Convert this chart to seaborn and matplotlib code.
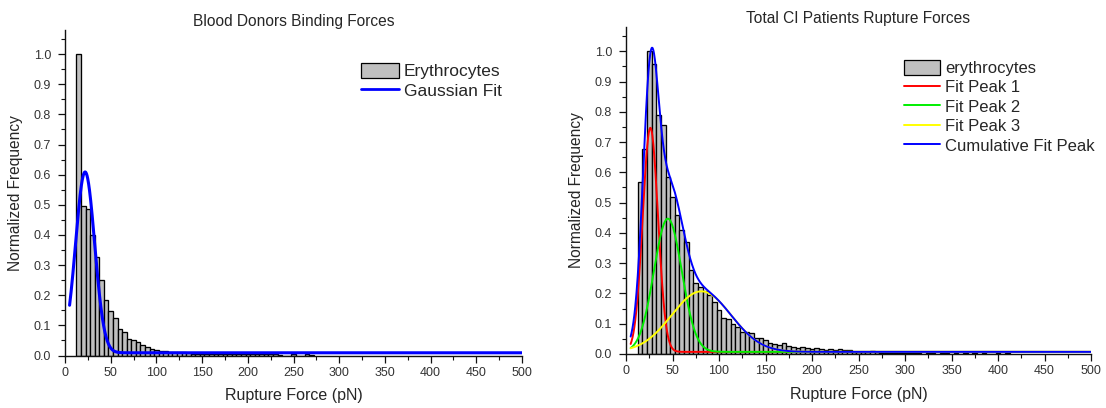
import numpy as np
import pandas as pd
import matplotlib
matplotlib.use("Agg")
import matplotlib.pyplot as plt
from matplotlib.ticker import MultipleLocator, FormatStrFormatter
from matplotlib.patches import Rectangle
from matplotlib.lines import Line2D
import seaborn as sns

# ---------------- data ----------------
bin_width = 5.0

left_first_bin = 12.5
left_heights = [1.0, 0.495, 0.485, 0.40, 0.327, 0.25, 0.185, 0.147, 0.126, 0.089,
                0.078, 0.054, 0.051, 0.044, 0.035, 0.029, 0.023, 0.018, 0.014, 0.016,
                0.010, 0.012, 0.012, 0.012, 0.008, 0.006, 0.005, 0.006, 0.004, 0.005,
                0.004, 0.005, 0.006, 0.004, 0.005, 0.006, 0.004, 0.005, 0.004, 0.006,
                0.005, 0.004, 0.005, 0.006, 0.003, 0.0, 0.0, 0.004, 0.0, 0.0,
                0.005, 0.003]

right_first_bin = 12.5
right_heights = [0.567, 0.678, 1.0, 0.958, 0.791, 0.755, 0.585, 0.518, 0.458, 0.409,
                 0.370, 0.279, 0.235, 0.222, 0.208, 0.195, 0.172, 0.145, 0.118, 0.115,
                 0.100, 0.090, 0.074, 0.074, 0.068, 0.052, 0.052, 0.046, 0.037, 0.032,
                 0.030, 0.037, 0.027, 0.024, 0.021, 0.024, 0.021, 0.018, 0.019, 0.015,
                 0.014, 0.018, 0.013, 0.016, 0.013, 0.013, 0.008, 0.007, 0.006, 0.006,
                 0.010, 0.006, 0.004, 0.003, 0.004, 0.003, 0.002, 0.003, 0.002, 0.003,
                 0.002, 0.0, 0.003, 0.002, 0.0, 0.002, 0.003, 0.0, 0.002, 0.0,
                 0.002, 0.0, 0.003, 0.0, 0.002, 0.0, 0.0, 0.002, 0.0, 0.002]

# Gaussian fit parameters
left_fit_base = 0.009
left_fit_center = 22.0
left_fit_width = 10.4
left_fit_amp = 0.60

right_fit_base = 0.007
right_peak_centers = [26.2, 45.0, 81.0]
right_peak_widths = [8.2, 15.0, 32.0]
right_peak_amps = [0.74, 0.44, 0.20]
right_peak_labels = ["Fit Peak 1", "Fit Peak 2", "Fit Peak 3"]
right_peak_colors = ["#ff0000", "#00ee00", "#ffff00"]

fit_start = 5.0
fit_end = 500.0

# ---------------- styling ----------------
sns.set_style("ticks")
plt.rcParams["font.family"] = ["Liberation Sans", "DejaVu Sans"]

fig = plt.figure(figsize=(11.06, 4.08), dpi=100)
W, H = 1106.0, 408.0
ax1 = fig.add_axes([65 / W, 52.5 / H, 457 / W, 325.5 / H])
ax2 = fig.add_axes([626 / W, 54 / H, 465 / W, 327 / H])

BAR_FACE = "#c0c0c0"


def gauss(x, base, center, width, amp):
    return base + amp * np.exp(-((x - center) ** 2) / (2.0 * width ** 2))


def draw_hist(ax, first_bin, heights):
    n = len(heights)
    centers = first_bin + bin_width * (np.arange(n) + 0.5)
    df = pd.DataFrame({"force": centers, "freq": heights})
    sns.histplot(data=df, x="force", weights="freq", binwidth=bin_width,
                 binrange=(first_bin, first_bin + bin_width * n), ax=ax,
                 color=BAR_FACE, edgecolor="black", linewidth=0.95, alpha=1.0,
                 stat="count")


def style_axes(ax, title):
    ax.set_xlim(0, 500)
    ax.set_ylim(0, 1.08)
    ax.xaxis.set_major_locator(MultipleLocator(50))
    ax.xaxis.set_minor_locator(MultipleLocator(25))
    ax.yaxis.set_major_locator(MultipleLocator(0.1))
    ax.yaxis.set_minor_locator(MultipleLocator(0.05))
    ax.yaxis.set_major_formatter(FormatStrFormatter("%.1f"))
    ax.tick_params(which="major", direction="out", length=5, width=0.9,
                   color="#111111", labelsize=9, labelcolor="#333333")
    ax.tick_params(axis="y", which="major", pad=5)
    ax.tick_params(axis="x", which="major", pad=3)
    ax.tick_params(which="minor", direction="out", length=3, width=0.8,
                   color="#111111")
    for s in ["top", "right"]:
        ax.spines[s].set_visible(False)
    for s in ["left", "bottom"]:
        ax.spines[s].set_linewidth(1.0)
        ax.spines[s].set_color("#111111")
    ax.set_xlabel("Rupture Force (pN)", fontsize=11.5, labelpad=7)
    ax.set_ylabel("Normalized Frequency", fontsize=11.2, labelpad=8)
    ax.set_title(title, fontsize=11.2, pad=3)
    ax.grid(False)


# ---------------- left panel ----------------
draw_hist(ax1, left_first_bin, left_heights)
xf = np.linspace(fit_start, fit_end, 1500)
yf = gauss(xf, left_fit_base, left_fit_center, left_fit_width, left_fit_amp)
sns.lineplot(x=xf, y=yf, ax=ax1, color="#0000ff", linewidth=2.2,
             estimator=None, sort=False)
style_axes(ax1, "Blood Donors Binding Forces")

h_left = [Rectangle((0, 0), 1, 1, facecolor=BAR_FACE, edgecolor="black", linewidth=0.9),
          Line2D([0], [0], color="#0000ff", linewidth=2.0)]
ax1.legend(h_left, ["Erythrocytes", "Gaussian Fit"], loc="upper left",
           bbox_to_anchor=(0.648, 0.90), frameon=False, fontsize=12.5,
           handlelength=2.2, handleheight=1.0, handletextpad=0.25,
           labelspacing=0.16, borderpad=0, borderaxespad=0)

# ---------------- right panel ----------------
draw_hist(ax2, right_first_bin, right_heights)
cum = np.full_like(xf, right_fit_base)
for c, w, a, lab, col in zip(right_peak_centers, right_peak_widths, right_peak_amps,
                             right_peak_labels, right_peak_colors):
    yp = gauss(xf, right_fit_base, c, w, a)
    cum = cum + (yp - right_fit_base)
    sns.lineplot(x=xf, y=yp, ax=ax2, color=col, linewidth=1.4,
                 estimator=None, sort=False)
sns.lineplot(x=xf, y=cum, ax=ax2, color="#0000ff", linewidth=1.4,
             estimator=None, sort=False)
style_axes(ax2, "Total CI Patients Rupture Forces")

h_right = [Rectangle((0, 0), 1, 1, facecolor=BAR_FACE, edgecolor="black", linewidth=0.9)]
h_right += [Line2D([0], [0], color=col, linewidth=1.4) for col in right_peak_colors]
h_right += [Line2D([0], [0], color="#0000ff", linewidth=1.4)]
ax2.legend(h_right, ["erythrocytes"] + right_peak_labels + ["Cumulative Fit Peak"],
           loc="upper left", bbox_to_anchor=(0.597, 0.90), frameon=False,
           fontsize=12, handlelength=2.2, handleheight=1.0, handletextpad=0.3,
           labelspacing=0.2, borderpad=0, borderaxespad=0)

fig.savefig("out.png", dpi=100)
